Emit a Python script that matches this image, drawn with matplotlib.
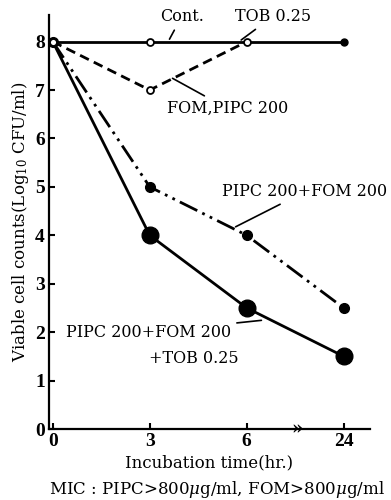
import matplotlib
matplotlib.use("Agg")
import matplotlib.pyplot as plt

# posiciones equidistantes en el eje x (eje cortado entre 6 y 24 h)
horas = ["0", "3", "6", "24"]
pos = [0, 1, 2, 3]

control = [8, 8, 8, 8]
fom_pipc = [8, 7, 8]
pipc_fom = [8, 5, 4, 2.5]
pipc_fom_tob = [8, 4, 2.5, 1.5]

plt.rcParams["font.family"] = ["DejaVu Serif"]
plt.rcParams["mathtext.fontset"] = "dejavuserif"

fig = plt.figure(figsize=(3.91, 5.0), dpi=100)
ax = fig.add_axes([0.125, 0.142, 0.821, 0.828])

# Cont. / TOB 0.25
ax.plot(pos, control, color="black", lw=2, zorder=3)
ax.plot(pos[:3], control[:3], "o", ms=5, mfc="white", mec="black", mew=1.3, zorder=4)
ax.plot(pos[3], control[3], "o", ms=5, color="black", zorder=4)

# FOM, PIPC 200
ax.plot(pos[:3], fom_pipc, color="black", lw=2, ls=(0, (3.5, 2)), zorder=2)
ax.plot(pos[1], fom_pipc[1], "o", ms=5, mfc="white", mec="black", mew=1.3, zorder=4)

# PIPC 200 + FOM 200
ax.plot(pos, pipc_fom, color="black", lw=2, ls=(0, (7, 2, 1, 2, 1, 2)),
        marker="o", ms=7, zorder=3)

# PIPC 200 + FOM 200 + TOB 0.25
ax.plot(pos, pipc_fom_tob, color="black", lw=2, zorder=3)
ax.plot(pos[1:], pipc_fom_tob[1:], "o", ms=12, color="black", zorder=4)

ax.set_xlim(-0.04, 3.27)
ax.set_ylim(0, 8.55)
ax.set_xticks(pos)
ax.set_xticklabels(horas)
ax.set_yticks(range(0, 9))
ax.tick_params(direction="in", length=4, width=1.5, labelsize=14, pad=3)
for lab in ax.get_xticklabels() + ax.get_yticklabels():
    lab.set_fontweight("bold")
    lab.set_family("Liberation Serif")
for s in ["top", "right"]:
    ax.spines[s].set_visible(False)
for s in ["left", "bottom"]:
    ax.spines[s].set_linewidth(1.6)

# marca de corte del eje
ax.text(2.52, 0, "»", ha="center", va="center", fontsize=13, fontweight="bold",
        clip_on=False)

ap = dict(arrowstyle="-", color="black", lw=1.2)
ax.annotate("Cont.", xy=(1.19, 8), xytext=(1.33, 8.52), ha="center", va="center",
            fontsize=11.5, arrowprops=ap)
ax.annotate("TOB 0.25", xy=(1.92, 8), xytext=(2.27, 8.52), ha="center", va="center",
            fontsize=11.5, arrowprops=ap)
ax.annotate("FOM,PIPC 200", xy=(1.21, 7.27), xytext=(1.8, 6.62), ha="center",
            va="center", fontsize=11.5, arrowprops=ap)
ax.annotate("PIPC 200+FOM 200", xy=(1.86, 4.15), xytext=(2.6, 4.9), ha="center",
            va="center", fontsize=11.5, arrowprops=ap)
ax.annotate("PIPC 200+FOM 200", xy=(2.18, 2.25), xytext=(0.99, 2.0),
            ha="center", va="center", fontsize=11.5, arrowprops=ap)
ax.text(1.45, 1.45, "+TOB 0.25", ha="center", va="center", fontsize=11.5)

ax.set_xlabel("Incubation time(hr.)", fontsize=12, labelpad=3)
ax.set_ylabel("Viable cell counts(Log$_{10}$ CFU/ml)", fontsize=12, labelpad=3)
fig.text(0.985, 0.0, "MIC : PIPC>800$\\mu$g/ml, FOM>800$\\mu$g/ml",
         ha="right", va="bottom", fontsize=12)

fig.savefig("out.png", dpi=100)
plt.close(fig)
